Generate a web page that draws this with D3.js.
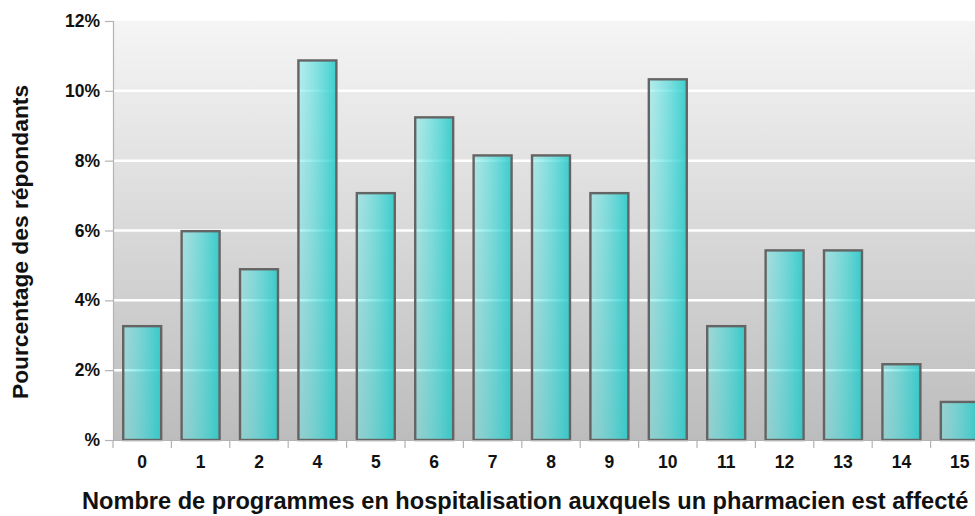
<!DOCTYPE html>
<html>
<head>
<meta charset="utf-8">
<script src="https://cdn.jsdelivr.net/npm/d3@7"></script>
<style>
  html, body { margin: 0; padding: 0; background: #fff; }
  svg { display: block; font-family: "Liberation Sans", Arial, sans-serif; }
</style>
</head>
<body>
<svg id="chart" width="975" height="516"></svg>
<script>
// Number of inpatient programs per pharmacist, and share of respondents (%)
const categories = ["0", "1", "2", "4", "5", "6", "7", "8", "9", "10", "11", "12", "13", "14", "15"];
const percentages = [3.26, 5.98, 4.89, 10.87, 7.07, 9.24, 8.15, 8.15, 7.07, 10.33, 3.26, 5.43, 5.43, 2.17, 1.09];
const yTicks = [0, 2, 4, 6, 8, 10, 12];

const xTitle = "Nombre de programmes en hospitalisation auxquels un pharmacien est affecté";
const yTitle = "Pourcentage des répondants";

const svg = d3.select("#chart");
const margin = { left: 113, top: 21, bottom: 76 };
const plotRight = 989;
const height = 516;

const x = d3.scaleBand()
  .domain(categories)
  .range([margin.left, plotRight])
  .paddingInner(0.35)
  .paddingOuter(0.175);

const y = d3.scaleLinear()
  .domain([0, 12])
  .range([height - margin.bottom, margin.top]);

const defs = svg.append("defs");

const bg = defs.append("linearGradient")
  .attr("id", "plotBg").attr("x1", 0).attr("y1", 0).attr("x2", 0).attr("y2", 1);
bg.append("stop").attr("offset", "0%").attr("stop-color", "#f5f5f5");
bg.append("stop").attr("offset", "100%").attr("stop-color", "#bcbcbc");

const barFill = defs.append("linearGradient")
  .attr("id", "barFill").attr("x1", 0).attr("y1", 0).attr("x2", 1).attr("y2", 0);
barFill.append("stop").attr("offset", "0%").attr("stop-color", "rgb(95,232,232)").attr("stop-opacity", 0.4);
barFill.append("stop").attr("offset", "100%").attr("stop-color", "rgb(30,200,200)").attr("stop-opacity", 0.85);

// plot background
svg.append("rect")
  .attr("x", margin.left)
  .attr("y", y(12))
  .attr("width", plotRight - margin.left)
  .attr("height", y(0) - y(12))
  .attr("fill", "url(#plotBg)");

// horizontal grid
svg.append("g")
  .selectAll("line")
  .data(yTicks.filter(d => d > 0 && d < 12))
  .join("line")
  .attr("x1", margin.left)
  .attr("x2", plotRight)
  .attr("y1", d => y(d))
  .attr("y2", d => y(d))
  .attr("stroke", "#ffffff")
  .attr("stroke-width", 2.5);

// bars
svg.append("g")
  .selectAll("rect")
  .data(categories.map((c, i) => ({ c, v: percentages[i] })))
  .join("rect")
  .attr("x", d => x(d.c))
  .attr("y", d => y(d.v))
  .attr("width", x.bandwidth())
  .attr("height", d => y(0) - y(d.v))
  .attr("fill", "url(#barFill)")
  .attr("stroke", "#646464")
  .attr("stroke-width", 2.4);

// y axis
const yAxis = svg.append("g")
  .attr("transform", `translate(${margin.left},0)`)
  .call(d3.axisLeft(y)
    .tickValues(yTicks)
    .tickSize(8)
    .tickPadding(5)
    .tickFormat(d => (d === 0 ? "" : d) + "%"));
yAxis.select(".domain").attr("stroke", "#b3b3b3").attr("stroke-width", 1.2);
yAxis.selectAll(".tick line").attr("stroke", "#b3b3b3").attr("stroke-width", 1.2);
yAxis.selectAll(".tick text")
  .attr("fill", "#111")
  .style("font-size", "17.5px")
  .style("font-weight", "bold");

// x axis
const xAxis = svg.append("g")
  .attr("transform", `translate(0,${y(0)})`)
  .call(d3.axisBottom(x).tickSize(0).tickPadding(16));
xAxis.select(".domain").attr("stroke", "#b3b3b3").attr("stroke-width", 1.2);
xAxis.selectAll(".tick text")
  .attr("fill", "#111")
  .style("font-size", "17.5px")
  .style("font-weight", "bold");

// category separators below the axis
const step = x.step();
const bounds = d3.range(categories.length + 1).map(i => margin.left + i * step);
svg.append("g")
  .selectAll("line")
  .data(bounds)
  .join("line")
  .attr("x1", d => d).attr("x2", d => d)
  .attr("y1", y(0)).attr("y2", y(0) + 8)
  .attr("stroke", "#b3b3b3")
  .attr("stroke-width", 1.2);

// axis titles
svg.append("text")
  .attr("x", 82)
  .attr("y", 509)
  .attr("fill", "#111")
  .style("font-size", "23.6px")
  .style("font-weight", "bold")
  .text(xTitle);

svg.append("text")
  .attr("transform", "translate(28,242) rotate(-90)")
  .attr("text-anchor", "middle")
  .attr("fill", "#111")
  .style("font-size", "22.8px")
  .style("font-weight", "bold")
  .text(yTitle);
</script>
</body>
</html>
